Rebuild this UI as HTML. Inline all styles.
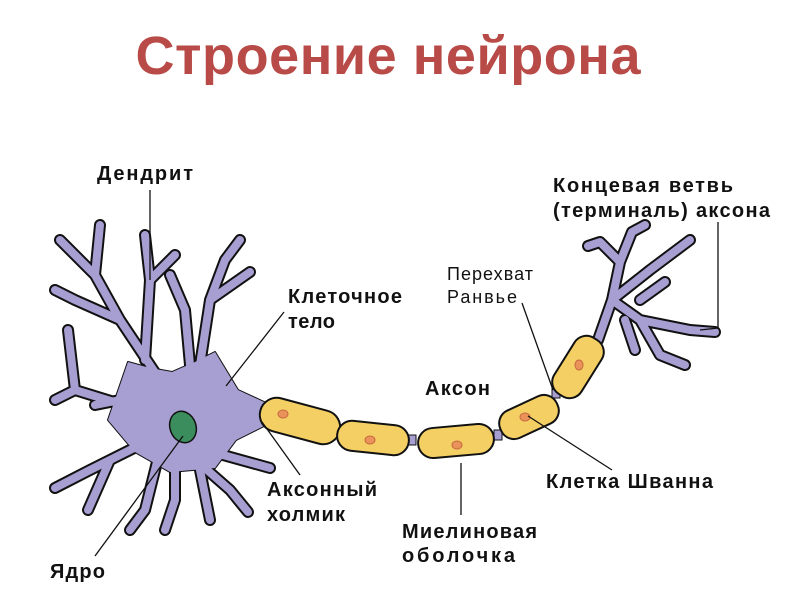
<!DOCTYPE html>
<html><head><meta charset="utf-8"><style>
html,body{margin:0;padding:0;background:#fff;}
svg{display:block;}
.t{font-family:"Liberation Sans",sans-serif;font-weight:bold;font-size:20px;fill:#111;}
.n{font-family:"Liberation Sans",sans-serif;font-size:18px;fill:#111;}
</style></head><body>
<svg width="802" height="591" viewBox="0 0 802 591" xmlns="http://www.w3.org/2000/svg">
<defs>
<path id="dp" d="M160,380 L120,320 L95,275 L60,240 M95,275 L100,225 M120,320 L75,300 L55,290 M145,360 L150,280 L145,235 M150,280 L175,255 M200,365 L210,300 L225,260 L240,240 M210,300 L250,272 M190,365 L185,310 L170,275 M140,410 L75,390 L68,330 M75,390 L55,400 M150,440 L90,470 L55,488 M110,460 L88,510 M160,450 L145,510 L130,530 M175,460 L175,500 L165,530 M190,455 L230,490 L248,512 M205,450 L270,468 M198,460 L210,520 M120,400 L95,405"/>
<path id="tp" d="M598,340 L612,300 L620,262 L632,232 M620,262 L600,242 L588,246 M612,300 L650,270 L690,240 M612,300 L640,320 L690,330 L715,332 M640,320 L660,355 L685,365 M640,300 L665,282 M625,320 L635,350 M632,232 L645,225"/>
<path id="sp" d="M128,362 L150,368 L172,372 L195,362 L215,352 L238,390 L264,402 L264,426 L236,440 L215,468 L170,472 L135,452 L108,420 Z"/>
</defs>
<text x="388" y="74" text-anchor="middle" textLength="505" style="font-family:'Liberation Sans',sans-serif;font-weight:bold;font-size:54px;fill:#b84a47">Строение нейрона</text>

<g fill="none" stroke-linecap="round" stroke-linejoin="round" stroke="#111" stroke-width="12">
<use href="#dp"/><use href="#tp"/>
</g>
<use href="#sp" fill="#a79fd2" stroke="#111" stroke-width="2" stroke-linejoin="round"/>
<g fill="none" stroke-linecap="round" stroke-linejoin="round" stroke="#a79fd2" stroke-width="8">
<use href="#dp"/><use href="#tp"/>
</g>
<use href="#sp" fill="#a79fd2"/>
<ellipse cx="183" cy="427" rx="13" ry="16" transform="rotate(-20 183 427)" fill="#3c8d5e" stroke="#111" stroke-width="1.5"/>

<g fill="#a79fd2" stroke="#111" stroke-width="1">
<rect x="334" y="425" width="8" height="10"/><rect x="408" y="435" width="8" height="10"/>
<rect x="494" y="430" width="8" height="10"/><rect x="552" y="388" width="8" height="10"/>
</g>
<g fill="#f4cf63" stroke="#111" stroke-width="2">
<rect x="-41" y="-17" width="82" height="34" rx="17" transform="translate(300 421) rotate(15)"/>
<rect x="-36" y="-15" width="72" height="30" rx="15" transform="translate(373 438) rotate(6)"/>
<rect x="-38" y="-15" width="76" height="30" rx="15" transform="translate(456 441) rotate(-5)"/>
<rect x="-31" y="-15" width="62" height="30" rx="14" transform="translate(529 417) rotate(-25)"/>
<rect x="-33" y="-16" width="66" height="32" rx="14" transform="translate(578 367) rotate(-58)"/>
</g>
<g fill="#e9935a" stroke="#c76a40" stroke-width="1">
<ellipse cx="283" cy="414" rx="5" ry="4"/><ellipse cx="370" cy="440" rx="5" ry="4"/>
<ellipse cx="457" cy="445" rx="5" ry="4"/><ellipse cx="525" cy="417" rx="5" ry="4"/>
<ellipse cx="579" cy="365" rx="4" ry="5"/>
</g>

<g stroke="#111" stroke-width="1.3" fill="none">
<path d="M150,190 L150,280"/>
<path d="M284,312 L226,386"/>
<path d="M522,303 L553,390"/>
<path d="M718,222 L718,328 L700,330"/>
<path d="M528,416 L612,470"/>
<path d="M461,463 L461,515"/>
<path d="M262,422 L300,475"/>
<path d="M183,436 L95,556"/>
</g>

<text class="t" x="97" y="180" textLength="96">Дендрит</text>
<text class="t" x="288" y="303" textLength="114">Клеточное</text>
<text class="t" x="288" y="328" textLength="47">тело</text>
<text class="t" x="425" y="395" textLength="65">Аксон</text>
<text class="n" x="447" y="280" textLength="86">Перехват</text>
<text class="n" x="447" y="303" textLength="70">Ранвье</text>
<text class="t" x="553" y="192" textLength="180">Концевая ветвь</text>
<text class="t" x="553" y="217" textLength="217">(терминаль) аксона</text>
<text class="t" x="546" y="488" textLength="167">Клетка Шванна</text>
<text class="t" x="402" y="538" textLength="135">Миелиновая</text>
<text class="t" x="402" y="562" textLength="113">оболочка</text>
<text class="t" x="267" y="496" textLength="110">Аксонный</text>
<text class="t" x="267" y="521" textLength="78">холмик</text>
<text class="t" x="50" y="578" textLength="55">Ядро</text>
</svg>
</body></html>
